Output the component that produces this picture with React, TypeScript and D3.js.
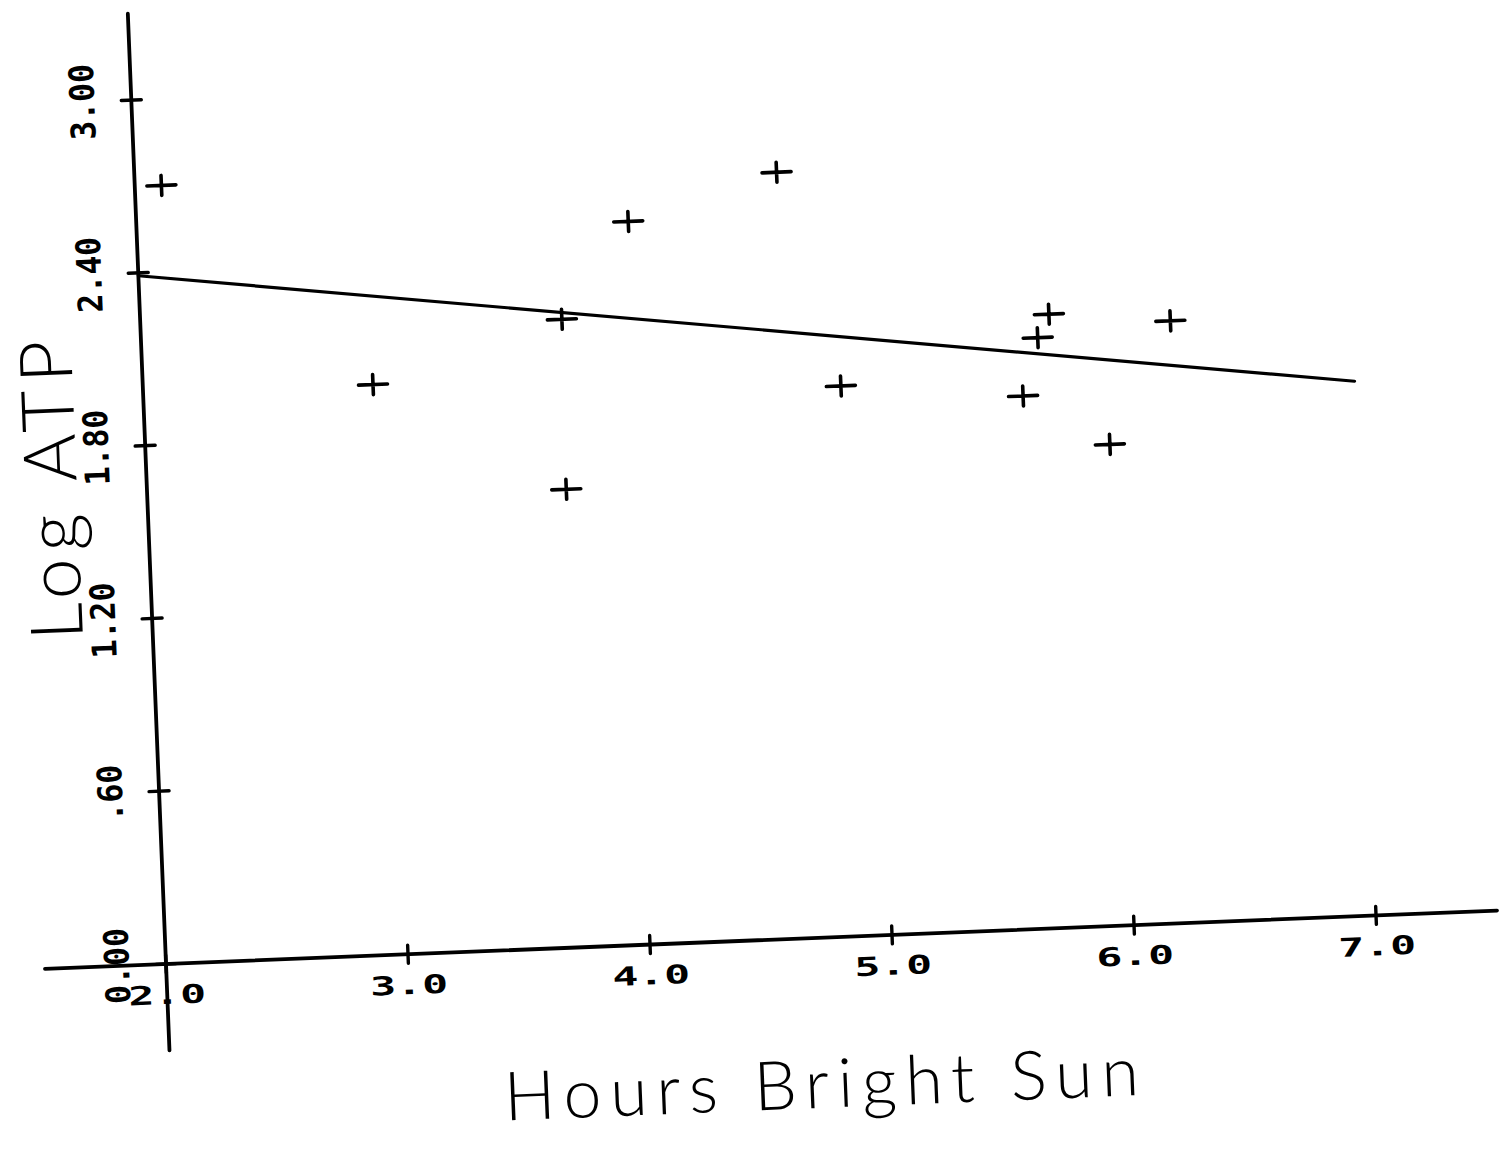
import React from "react";
import * as d3 from "d3";

// Hours of bright sun vs. log ATP, one cross per sample
const sunHours = [2.11, 2.95, 3.74, 3.73, 4.03, 4.65, 4.88, 5.63, 5.7, 5.75, 5.98, 6.25];
const logAtp = [2.7, 1.98, 2.18, 1.59, 2.51, 2.66, 1.91, 1.85, 2.05, 2.13, 1.67, 2.09];

// Least-squares line, drawn between its two end hours
const fitHours = [2.0, 7.0];
const fitLogAtp = [2.39, 1.855];

const xTickValues = [2, 3, 4, 5, 6, 7];
const xTickLabels = ["2.0", "3.0", "4.0", "5.0", "6.0", "7.0"];
const yTickValues = [0, 0.6, 1.2, 1.8, 2.4, 3.0];
const yTickLabels = ["0.00", ".60", "1.20", "1.80", "2.40", "3.00"];

const xExtent = [1.5, 7.5];
const yExtent = [-0.3, 3.3];

const xTitle = "Hours Bright Sun";
const yTitle = "Log ATP";

const W = 1503;
const H = 1160;
const ORIGIN: [number, number] = [166, 964];
const TILT = -2.3; // the plotter sheet sits slightly askew

const monoFont = "'DejaVu Sans Mono', 'Liberation Mono', monospace";
const handFont = "Lato, 'Open Sans', 'DejaVu Sans', sans-serif";

export default function App() {
  const x = d3.scaleLinear().domain([2, 7]).range([0, 5 * 242.2]);
  const y = d3.scaleLinear().domain([0, 3]).range([0, -3 * 288.2]);

  const pen = { stroke: "#000", fill: "none", strokeLinecap: "round" as const, strokeLinejoin: "round" as const };

  const fitLine = d3
    .line<number>()
    .x((_, i) => x(fitHours[i]))
    .y((d) => y(d));

  const cross = (cx: number, cy: number) =>
    `M${cx - 14.5},${cy}H${cx + 14.5}M${cx},${cy - 10}V${cy + 10}`;

  const points = sunHours.map((h, i) => ({ h, v: logAtp[i] }));

  return (
    <svg
      width={W}
      height={H}
      viewBox={`0 0 ${W} ${H}`}
      style={{ position: "absolute", left: 0, top: 0, background: "#fff" }}
    >
      <rect width={W} height={H} fill="#fff" />
      <g transform={`translate(${ORIGIN[0]},${ORIGIN[1]}) rotate(${TILT})`}>
        {/* axes */}
        <line x1={x(xExtent[0])} x2={x(xExtent[1])} y1={y(0)} y2={y(0)} {...pen} strokeWidth={3.8} />
        <line x1={x(2)} x2={x(2)} y1={y(yExtent[0])} y2={y(yExtent[1])} {...pen} strokeWidth={3.8} />

        {/* x ticks and labels */}
        {xTickValues.map((t, i) => (
          <g key={`xt${t}`}>
            <line x1={x(t)} x2={x(t)} y1={-9} y2={9} {...pen} strokeWidth={3.4} />
            <text
              x={x(t)}
              y={40}
              textAnchor="middle"
              fontFamily={monoFont}
              fontWeight="bold"
              fontSize={26}
              textLength={xTickLabels[i].length * 26}
              lengthAdjust="spacingAndGlyphs"
              fill="#000"
            >
              {xTickLabels[i]}
            </text>
          </g>
        ))}

        {/* y ticks and labels */}
        {yTickValues.map((t, i) => (
          <g key={`yt${t}`}>
            <line x1={-10} x2={10} y1={y(t)} y2={y(t)} {...pen} strokeWidth={3.4} />
            <text
              transform={`translate(-37,${y(t)}) rotate(-90)`}
              textAnchor="middle"
              fontFamily={monoFont}
              fontWeight="bold"
              fontSize={34}
              textLength={yTickLabels[i].length * 19}
              lengthAdjust="spacingAndGlyphs"
              fill="#000"
            >
              {yTickLabels[i]}
            </text>
          </g>
        ))}

        {/* regression line */}
        <path d={fitLine(fitLogAtp) || ""} {...pen} strokeWidth={3.2} />

        {/* samples */}
        {points.map((p, i) => (
          <path key={`p${i}`} d={cross(x(p.h), y(p.v))} {...pen} strokeWidth={3.6} />
        ))}

        {/* axis titles */}
        <text
          x={650}
          y={170}
          textAnchor="middle"
          fontFamily={handFont}
          fontWeight={300}
          fontSize={68}
          textLength={635}
          lengthAdjust="spacing"
          fill="#000"
        >
          {xTitle}
        </text>
        <text
          transform={`translate(-70,-478) rotate(-90)`}
          textAnchor="middle"
          fontFamily={handFont}
          fontWeight={300}
          fontSize={73}
          textLength={300}
          lengthAdjust="spacing"
          fill="#000"
        >
          {yTitle}
        </text>
      </g>
    </svg>
  );
}
